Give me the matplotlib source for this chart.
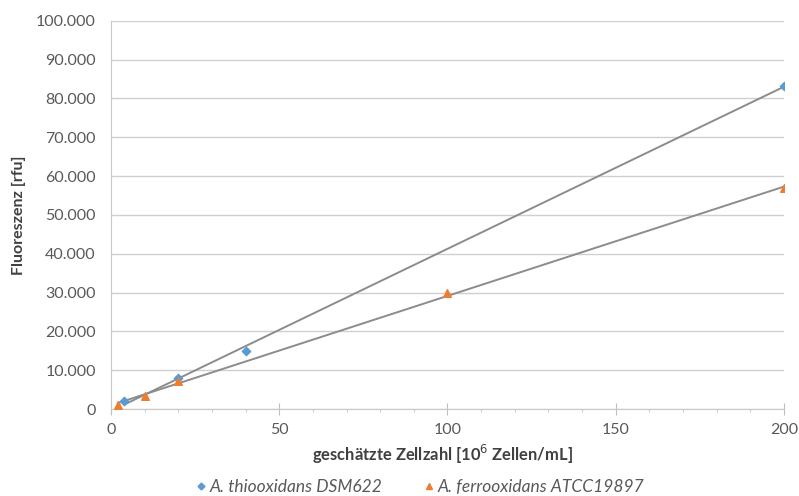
import numpy as np
import matplotlib
matplotlib.use("Agg")
import matplotlib.pyplot as plt
from matplotlib.ticker import FuncFormatter, MultipleLocator
from matplotlib.lines import Line2D

plt.rcParams['font.family'] = ['Lato', 'DejaVu Sans']

# data
thio_x = [4, 20, 40, 200]
thio_y = [2000, 8000, 15000, 83200]
ferro_x = [2, 10, 20, 100, 200]
ferro_y = [1000, 3300, 7200, 30000, 56800]

labels = ["A. thiooxidans DSM622", "A. ferrooxidans ATCC19897"]
blue = "#5B9BD5"
orange = "#ED7D31"
gray_txt = "#595959"
fs = 11.5

fig = plt.figure(figsize=(7.99, 4.96), dpi=100)
ax = fig.add_axes([0.1389, 0.1754, 0.8423, 0.7829])

# linear trendlines over each data range
for xs, ys in [(thio_x, thio_y), (ferro_x, ferro_y)]:
    k, d = np.polyfit(xs, ys, 1)
    xx = np.array([min(xs), max(xs)])
    ax.plot(xx, k*xx + d, color="#8c8c8c", lw=1.4, zorder=2)

ax.scatter(thio_x, thio_y, marker="D", s=18, color=blue, zorder=3)
ax.scatter(ferro_x, ferro_y, marker="^", s=30, color=orange, zorder=3)

ax.set_xlim(0, 200)
ax.set_ylim(0, 100000)
ax.xaxis.set_major_locator(MultipleLocator(50))
ax.xaxis.set_minor_locator(MultipleLocator(10))
ax.yaxis.set_major_locator(MultipleLocator(10000))
ax.yaxis.set_major_formatter(FuncFormatter(lambda v, p: "{:,.0f}".format(v).replace(",", ".")))

ax.grid(axis="y", color="#d0d0d0", lw=1)
ax.set_axisbelow(True)
for s in ["top", "right"]:
    ax.spines[s].set_visible(False)
ax.spines["left"].set_color("#c8c8c8")
ax.spines["bottom"].set_color("#c8c8c8")
ax.tick_params(axis="y", length=0, labelsize=fs, labelcolor=gray_txt, pad=11)
ax.tick_params(axis="x", which="major", direction="inout", length=8, color="#bfbfbf",
               labelsize=fs, labelcolor=gray_txt, pad=6)
ax.tick_params(axis="x", which="minor", length=2.5, color="#bfbfbf")

ax.set_xlabel("geschätzte Zellzahl [10$^{6}$ Zellen/mL]", fontsize=11.9, fontweight="bold", color="#404040")
ax.set_ylabel("Fluoreszenz [rfu]", fontsize=fs, fontweight="bold", color="#404040")
ax.xaxis.set_label_coords(0.492, -0.118)
ax.xaxis.label.set_va("center")
ax.yaxis.set_label_coords(-0.137, 0.5)
ax.yaxis.label.set_va("center")

handles = [Line2D([], [], ls="", marker="D", ms=3.5, color=blue),
           Line2D([], [], ls="", marker="^", ms=5, color=orange)]
leg = fig.legend(handles, labels, loc="center", bbox_to_anchor=(0.526, 0.018), ncol=2,
                 frameon=False, handletextpad=0.2, columnspacing=2.4, handlelength=0.6,
                 borderpad=0, prop={"size": 12.5, "style": "italic"})
for t in leg.get_texts():
    t.set_color(gray_txt)

fig.savefig("out.png", dpi=100)
